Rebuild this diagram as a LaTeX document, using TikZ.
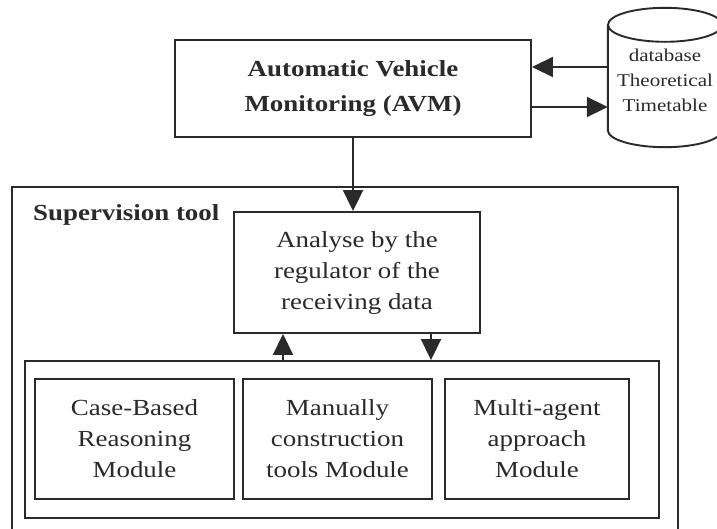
\documentclass[tikz,border=0pt]{standalone}
\usepackage{fontspec}
\setmainfont{Liberation Serif}[FakeStretch=1.17]
\usetikzlibrary{arrows.meta}
\definecolor{ink}{HTML}{2A2A2A}
\tikzset{
  line/.style={draw=ink, line width=1.9pt},
  arr/.style={line, -{Triangle[length=21pt,width=20pt]}},
  box/.style={line, rectangle, inner sep=0pt, align=center, text=ink,
              font=\fontsize{23}{31}\selectfont},
  bbox/.style={box, font=\fontsize{23}{35}\selectfont\bfseries},
}
\begin{document}
\begin{tikzpicture}[x=1pt, y=-1pt]
\clip (0,0) rectangle (717,528);
\fill[white] (0,0) rectangle (717,528);

% AVM
\node[bbox, minimum width=356, minimum height=97] (avm) at (353,88.5)
  {Automatic Vehicle\\Monitoring (AVM)};

% database cylinder
\node[rectangle, inner sep=0pt, minimum width=114, minimum height=105, align=center,
      text=ink, font=\fontsize{18}{25}\selectfont] (db) at (665,77.5)
  {\\[-6pt]database\\Theoretical\\Timetable};
\draw[line] (db.north west) -- (db.south west)
  arc[start angle=180, end angle=360, x radius=57pt, y radius=17pt] -- (db.north east);
\draw[line] (db.north) ellipse[x radius=57pt, y radius=17pt];

\draw[arr] (db.west |- 0,67) -- (avm.east |- 0,67);
\draw[arr] (avm.east |- 0,107) -- (db.west |- 0,107);

% Supervision tool
\node[box, minimum width=666, minimum height=360] (sup) at (345,367) {};
\node[anchor=base west, inner sep=0pt, text=ink,
      font=\fontsize{23}{31}\selectfont\bfseries] (suptitle) at (33,220) {Supervision tool};

\node[box, minimum width=246, minimum height=121] (ana) at (357,272.5)
  {Analyse by the\\regulator of the\\receiving data};

\draw[arr] (avm.south) -- (avm.south |- ana.north);

% modules
\node[box, minimum width=634, minimum height=157] (mods) at (342,439.5) {};
\node[box, minimum width=199, minimum height=120] (cbr) at (134.5,439)
  {Case-Based\\Reasoning\\Module};
\node[box, minimum width=189, minimum height=120] (man) at (337.5,439)
  {Manually\\construction\\tools Module};
\node[box, minimum width=184, minimum height=120] (mul) at (537,439)
  {Multi-agent\\approach\\Module};

\coordinate (upx) at (283,0);
\coordinate (dnx) at (431,0);
\draw[arr] (upx |- mods.north) -- (upx |- ana.south);
\draw[arr] (dnx |- ana.south) -- (dnx |- mods.north);
\end{tikzpicture}
\end{document}
